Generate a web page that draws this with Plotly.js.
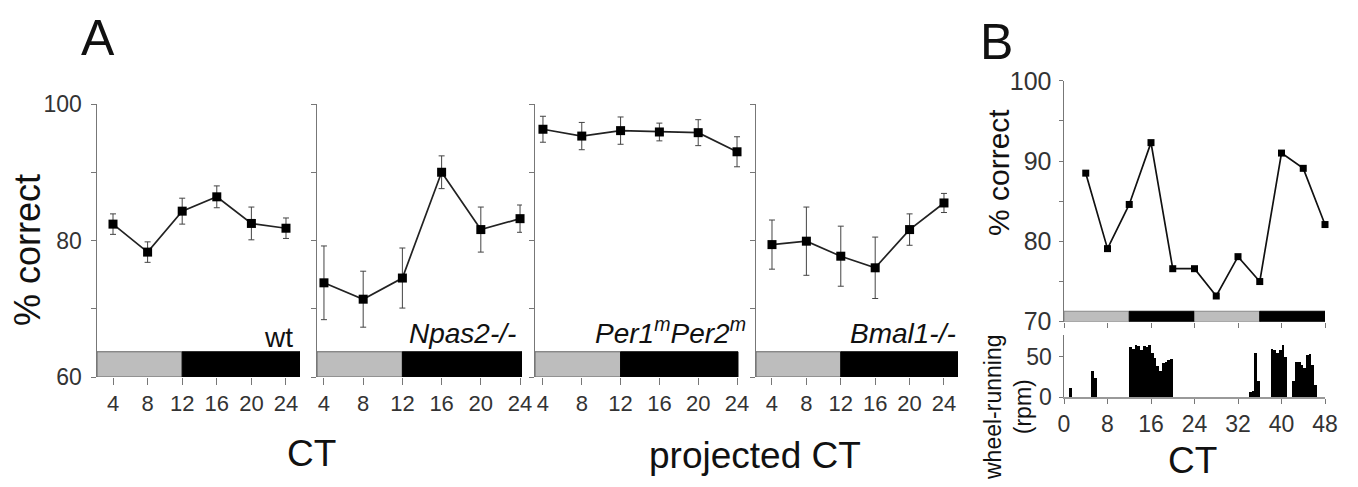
<!DOCTYPE html>
<html>
<head>
<meta charset="utf-8">
<script src="https://cdn.plot.ly/plotly-3.0.1.min.js"></script>
<style>html,body{margin:0;padding:0;background:#fff;}#chart{width:1358px;height:487px;}</style>
</head>
<body>
<div id="chart"></div>
<script>
// ---------- Data ----------
const ctHours = [4, 8, 12, 16, 20, 24];

const wtMean   = [82.4, 78.3, 84.3, 86.4, 82.5, 81.8];
const wtErr    = [1.5, 1.5, 1.9, 1.6, 2.4, 1.5];

const npasMean = [73.8, 71.4, 74.5, 90.0, 81.6, 83.2];
const npasErr  = [5.4, 4.1, 4.4, 2.4, 3.3, 2.0];

const perMean  = [96.3, 95.3, 96.1, 95.9, 95.8, 93.0];
const perErr   = [1.9, 2.0, 2.0, 1.3, 1.9, 2.2];

const bmalMean = [79.4, 79.9, 77.7, 76.0, 81.6, 85.5];
const bmalErr  = [3.6, 5.0, 4.4, 4.5, 2.3, 1.4];

const bHours   = [4, 8, 12, 16, 20, 24, 28, 32, 36, 40, 44, 48];
const bCorrect = [88.5, 79.1, 84.6, 92.3, 76.6, 76.6, 73.2, 78.1, 75.0, 91.0, 89.1, 82.1];

const wheelHour = [1.0, 5.0, 5.5, 12.0, 12.5, 13.0, 13.5, 14.0, 14.5, 15.0, 15.5, 16.0, 16.5, 17.0, 17.5, 18.0, 18.5, 19.0, 19.5,
                   34.0, 34.5, 35.0, 35.5, 38.0, 38.5, 39.0, 39.5, 40.0, 40.5, 42.0, 42.5, 43.0, 43.5, 44.0, 44.5, 45.0, 45.5, 46.0];
const wheelRpm  = [11, 33, 24, 62, 60, 64, 63, 58, 63, 62, 65, 55, 48, 38, 33, 42, 44, 46, 47,
                   6, 8, 55, 20, 60, 58, 55, 58, 64, 50, 20, 44, 44, 40, 36, 52, 53, 40, 15];

const panelLabels = ['wt', '<i>Npas2-/-</i>', '<i>Per1<sup>m</sup>Per2<sup>m</sup></i>', '<i>Bmal1-/-</i>'];
const xTickVals = [4, 8, 12, 16, 20, 24];
const bTickVals = [0, 8, 16, 24, 32, 40, 48];

// ---------- Styling helpers ----------
const W = 1358, H = 487;
const px = v => v / W;
const py = v => 1 - v / H;
const FONT = 'Liberation Sans, Arial, Helvetica, sans-serif';
const AXC = '#777';
const TICKC = '#333';

function aPanel(mean, err, xa, ya) {
  return {
    x: ctHours, y: mean, xaxis: xa, yaxis: ya, type: 'scatter', mode: 'lines+markers',
    line: {color: '#222', width: 1.7},
    marker: {symbol: 'square', size: 9, color: '#000'},
    error_y: {type: 'data', array: err, visible: true, color: '#444', thickness: 1, width: 3},
    cliponaxis: false,
    showlegend: false, hoverinfo: 'skip'
  };
}

const traces = [
  aPanel(wtMean, wtErr, 'x', 'y'),
  aPanel(npasMean, npasErr, 'x2', 'y2'),
  aPanel(perMean, perErr, 'x3', 'y3'),
  aPanel(bmalMean, bmalErr, 'x4', 'y4'),
  {
    x: bHours, y: bCorrect, xaxis: 'x5', yaxis: 'y5', type: 'scatter', mode: 'lines+markers',
    line: {color: '#111', width: 1.7},
    marker: {symbol: 'square', size: 7, color: '#000'},
    cliponaxis: false,
    showlegend: false, hoverinfo: 'skip'
  },
  {
    x: wheelHour, y: wheelRpm, xaxis: 'x6', yaxis: 'y6', type: 'bar',
    width: 0.5, offset: 0,
    marker: {color: '#000', line: {width: 0}},
    showlegend: false, hoverinfo: 'skip'
  }
];

const aYDomain = [py(377), py(104)];
const panelsA = [
  {dom: [px(97), px(300)], rng: [2.15, 25.62], ldEnd: 25.62},
  {dom: [px(317), px(522)], rng: [3.29, 24.2], ldEnd: 24.2},
  {dom: [px(535), px(754)], rng: [3.18, 25.75], ldEnd: 24.1},
  {dom: [px(756), px(958)], rng: [2.14, 25.63], ldEnd: 25.63}
];

const layout = {
  width: W, height: H,
  margin: {l: 0, r: 0, t: 0, b: 0},
  paper_bgcolor: '#fff', plot_bgcolor: 'rgba(0,0,0,0)',
  font: {family: FONT, color: TICKC},
  bargap: 0,
  shapes: [],
  annotations: []
};

panelsA.forEach((p, i) => {
  const n = i === 0 ? '' : String(i + 1);
  const xr = 'x' + n, yr = 'y' + n;
  layout['xaxis' + n] = {
    domain: p.dom, range: p.rng, anchor: yr,
    showgrid: false, zeroline: false, showline: false,
    tickmode: 'array', tickvals: xTickVals, ticktext: xTickVals.map(String),
    ticks: 'outside', ticklen: 7, tickwidth: 1, tickcolor: AXC,
    tickfont: {size: 22, color: TICKC, family: FONT}, fixedrange: true
  };
  layout['yaxis' + n] = {
    domain: aYDomain, range: [60, 100], anchor: xr,
    showgrid: false, zeroline: false, showline: true, linecolor: AXC, linewidth: 1.5,
    tickmode: 'array', tickvals: [60, 80, 100],
    showticklabels: i === 0,
    ticks: 'outside', ticklen: 5, tickwidth: 1, tickcolor: AXC,
    minor: {tickmode: 'array', tickvals: [70, 90], ticks: 'outside', ticklen: 5, tickwidth: 1, tickcolor: AXC, showgrid: false},
    ticklabelstandoff: 4,
    tickfont: {size: 23, color: TICKC, family: FONT}, fixedrange: true
  };
  layout.shapes.push(
    {type: 'rect', xref: xr, yref: yr, x0: p.rng[0], x1: 12, y0: 60, y1: 63.7,
     fillcolor: '#bdbdbd', line: {color: '#666', width: 1}},
    {type: 'rect', xref: xr, yref: yr, x0: 12, x1: p.ldEnd, y0: 60, y1: 63.7,
     fillcolor: '#000', line: {color: '#000', width: 1}}
  );
});

// Panel B top
layout.xaxis5 = {
  domain: [px(1064), px(1325)], range: [0, 48], anchor: 'y5',
  showgrid: false, zeroline: false, showline: false,
  tickmode: 'array', tickvals: bTickVals, showticklabels: false,
  ticks: 'outside', ticklen: 5, tickwidth: 1, tickcolor: AXC, fixedrange: true
};
layout.yaxis5 = {
  domain: [py(321.7), py(80.8)], range: [70, 100], anchor: 'x5',
  showgrid: false, zeroline: false, showline: true, linecolor: AXC, linewidth: 1.5,
  tickmode: 'array', tickvals: [70, 80, 90, 100],
  ticks: 'outside', ticklen: 4, tickwidth: 1, tickcolor: AXC,
  minor: {tickmode: 'array', tickvals: [75, 85, 95], ticks: 'outside', ticklen: 4, tickwidth: 1, tickcolor: AXC, showgrid: false},
  ticklabelstandoff: 2,
  tickfont: {size: 25, color: TICKC, family: FONT}, fixedrange: true
};
// Panel B bottom
layout.xaxis6 = {
  domain: [px(1064), px(1325)], range: [0, 48], anchor: 'y6',
  showgrid: false, zeroline: false, showline: true, linecolor: '#999', linewidth: 2,
  tickmode: 'array', tickvals: bTickVals, ticktext: bTickVals.map(String),
  ticks: 'outside', ticklen: 5, tickwidth: 1, tickcolor: AXC,
  tickfont: {size: 23, color: TICKC, family: FONT}, fixedrange: true
};
layout.yaxis6 = {
  domain: [py(397.3), py(335)], range: [0, 76.7], anchor: 'x6',
  showgrid: false, zeroline: false, showline: true, linecolor: AXC, linewidth: 1.5,
  tickmode: 'array', tickvals: [0, 50], ticktext: ['0', '50'],
  ticks: 'outside', ticklen: 4, tickwidth: 1, tickcolor: AXC,
  ticklabelstandoff: 2,
  tickfont: {size: 23, color: TICKC, family: FONT}, fixedrange: true
};
const bLD = [[0, 12, '#bdbdbd'], [12, 24, '#000'], [24, 36, '#bdbdbd'], [36, 48, '#000']];
bLD.forEach(s => layout.shapes.push({
  type: 'rect', xref: 'x5', yref: 'y5', x0: s[0], x1: s[1], y0: 70, y1: 71.3,
  fillcolor: s[2], line: {color: s[2] === '#000' ? '#000' : '#888', width: 1}
}));

// Annotations
function ann(text, x, y, size, opts) {
  return Object.assign({
    text: text, xref: 'paper', yref: 'paper', x: px(x), y: py(y),
    showarrow: false, xanchor: 'center', yanchor: 'middle',
    font: {family: FONT, size: size, color: '#111'}
  }, opts || {});
}
layout.annotations.push(
  ann('A', 98, 38, 50),
  ann('B', 997, 42, 50),
  ann('% correct', 28, 250, 36, {textangle: -90}),
  ann('CT', 311, 453, 37),
  ann('projected CT', 755, 455, 37),
  ann('% correct', 998, 173, 30, {textangle: -90}),
  ann('wheel-running<br>(rpm)', 1008, 408, 23, {textangle: -90}),
  ann('CT', 1192, 460, 37)
);
const labelPos = [[295, 337], [518, 333], [748, 331], [958, 333]];
panelLabels.forEach((t, i) => layout.annotations.push(
  ann(t, labelPos[i][0], labelPos[i][1], 28, {xanchor: 'right'})
));

Plotly.newPlot('chart', traces, layout, {displayModeBar: false, staticPlot: true});
</script>
</body>
</html>
